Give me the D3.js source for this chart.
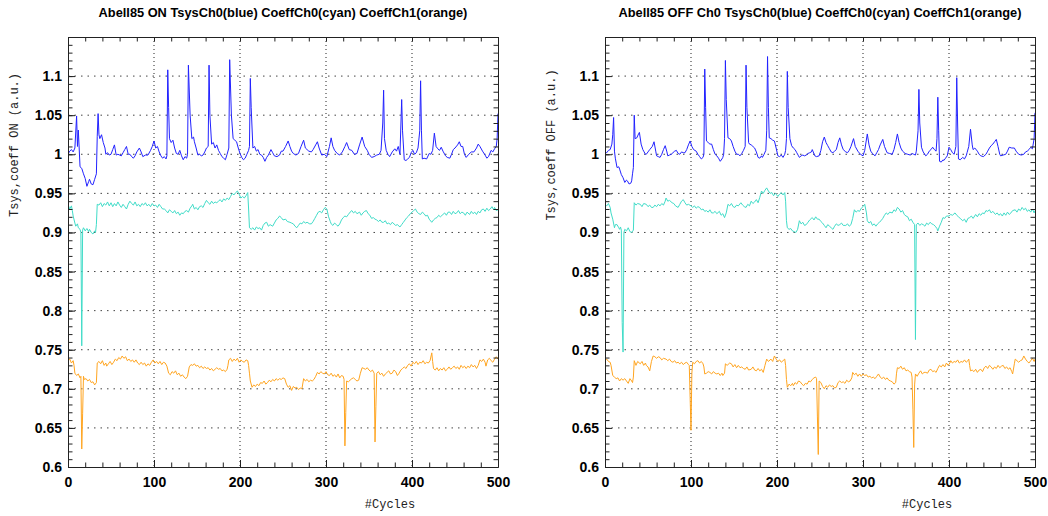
<!DOCTYPE html>
<html>
<head>
<meta charset="utf-8">
<script src="https://cdn.jsdelivr.net/npm/d3@7"></script>
<style>
  body { margin: 0; background: #fff; }
  svg { display: block; }
</style>
</head>
<body>
<svg width="1048" height="516"></svg>
<script>
// tick labels
const cycleTicks = [0, 100, 200, 300, 400, 500];
const valueTicks = [0.6, 0.65, 0.7, 0.75, 0.8, 0.85, 0.9, 0.95, 1, 1.05, 1.1];

const titles = [
    "Abell85 ON TsysCh0(blue) CoeffCh0(cyan) CoeffCh1(orange)",
    "Abell85 OFF Ch0 TsysCh0(blue) CoeffCh0(cyan) CoeffCh1(orange)"
];
const yLabels = ["Tsys,coeff ON (a.u.)", "Tsys,coeff OFF (a.u.)"];

// [cycle, value]
const onTsys = [[0,1.0],[2,1.004],[4,1.006],[6,1.003],[8,1.008],[10,1.049],[11,1.01],[12,1.031],[14,0.984],[16,0.982],[18,0.975],[20,0.969],[22,0.959],[24,0.965],[25,0.968],[27,0.962],[29,0.961],[31,0.968],[33,0.975],[34,1.023],[35,1.052],[36,1.025],[37,1.02],[39,1.025],[41,1.015],[43,1.008],[44,1.0],[46,1.002],[48,0.999],[50,1.0],[52,1.006],[54,1.012],[56,0.999],[58,1.0],[60,0.999],[62,0.998],[64,1.002],[66,1.006],[68,1.010],[70,1.0],[72,1.0],[74,0.997],[76,0.995],[78,0.998],[80,1.003],[83,1.008],[85,1.003],[87,0.997],[90,0.999],[93,0.999],[96,1.005],[98,1.01],[100,1.017],[102,1.008],[104,1.01],[106,1.003],[108,0.998],[110,0.995],[112,0.997],[114,0.994],[115,0.998],[116,1.108],[117,1.06],[118,1.02],[120,1.015],[122,1.018],[124,1.008],[126,1.001],[128,1.0],[130,1.005],[132,0.998],[134,0.993],[136,0.997],[138,0.995],[139,1.0],[140,1.114],[142,1.05],[144,1.02],[146,1.022],[147,1.016],[149,1.008],[151,0.999],[153,1.0],[155,0.998],[157,0.999],[159,1.003],[161,1.008],[163,1.01],[164,1.114],[165,1.05],[167,1.013],[169,1.015],[171,1.008],[173,1.012],[175,1.005],[177,1.001],[179,0.997],[181,0.995],[183,0.993],[185,1.0],[187,1.008],[188,1.121],[190,1.05],[192,1.02],[194,1.018],[196,1.016],[198,1.008],[200,1.001],[202,0.996],[204,0.993],[206,0.995],[208,1.0],[210,1.005],[211,1.01],[212,1.097],[213,1.06],[215,1.008],[217,1.01],[219,1.004],[221,1.006],[223,1.0],[225,0.999],[227,0.996],[229,0.991],[231,0.996],[233,0.999],[236,1.006],[238,1.002],[240,0.998],[243,0.997],[246,0.999],[248,1.004],[250,1.004],[253,1.01],[256,1.017],[258,1.01],[260,1.004],[262,1.001],[265,0.999],[268,1.001],[271,1.01],[274,1.018],[276,1.008],[278,1.006],[280,1.004],[283,1.003],[285,1.006],[288,1.012],[290,1.016],[292,1.008],[295,0.999],[298,1.0],[301,0.997],[304,1.01],[306,1.021],[308,1.01],[310,1.005],[313,1.001],[316,0.999],[319,1.003],[322,1.01],[324,1.015],[327,1.006],[330,1.005],[333,1.0],[336,1.001],[339,1.012],[342,1.022],[345,1.01],[348,1.005],[350,1.0],[353,0.996],[356,0.997],[359,0.999],[362,1.0],[364,1.005],[366,1.04],[367,1.082],[368,1.02],[370,1.005],[372,1.0],[374,0.997],[377,1.003],[380,1.007],[382,1.004],[384,1.01],[386,1.0],[388,1.07],[389,1.03],[391,0.993],[393,0.992],[395,0.994],[397,0.996],[399,1.002],[401,1.005],[403,1.0],[405,1.002],[407,1.008],[409,1.03],[410,1.094],[411,1.03],[412,0.994],[414,0.995],[417,0.994],[420,1.001],[422,1.0],[424,1.005],[426,1.027],[428,1.01],[430,1.007],[432,1.005],[434,1.009],[436,1.004],[439,0.998],[441,0.996],[444,0.995],[446,1.0],[448,1.006],[450,1.008],[453,1.012],[455,1.016],[457,1.01],[459,1.01],[461,1.0],[463,0.996],[466,1.0],[469,1.003],[472,1.003],[475,1.008],[477,1.013],[479,1.01],[482,1.004],[485,0.999],[487,0.995],[489,0.997],[492,1.005],[494,1.003],[496,1.007],[498,1.01],[499,1.02],[500,1.052]];

const onCoeff0 = [[0,0.936],[2,0.93],[4,0.934],[5,0.928],[6,0.921],[8,0.912],[9,0.908],[11,0.911],[12,0.906],[14,0.904],[15,0.9],[16,0.755],[17,0.903],[18,0.906],[20,0.902],[22,0.905],[24,0.901],[25,0.904],[27,0.9],[29,0.898],[31,0.902],[32,0.9],[33,0.91],[34,0.936],[36,0.935],[38,0.938],[40,0.933],[42,0.937],[44,0.935],[46,0.939],[48,0.934],[50,0.938],[52,0.933],[54,0.937],[56,0.934],[58,0.939],[60,0.935],[62,0.932],[64,0.936],[66,0.933],[68,0.93],[70,0.936],[72,0.94],[74,0.937],[76,0.935],[78,0.939],[80,0.934],[82,0.936],[84,0.933],[86,0.937],[88,0.935],[90,0.938],[92,0.934],[94,0.936],[96,0.933],[98,0.937],[100,0.934],[102,0.935],[104,0.932],[106,0.936],[108,0.933],[110,0.93],[112,0.93],[114,0.928],[116,0.925],[118,0.929],[120,0.927],[122,0.925],[124,0.928],[126,0.924],[128,0.926],[130,0.922],[132,0.925],[134,0.924],[136,0.927],[138,0.928],[140,0.926],[142,0.931],[144,0.934],[145,0.936],[147,0.93],[149,0.932],[151,0.929],[153,0.933],[155,0.934],[157,0.932],[159,0.937],[161,0.941],[163,0.938],[165,0.936],[167,0.94],[169,0.937],[171,0.939],[173,0.938],[175,0.94],[177,0.942],[179,0.939],[181,0.943],[183,0.941],[185,0.944],[187,0.942],[189,0.946],[191,0.95],[193,0.948],[195,0.951],[197,0.953],[199,0.949],[201,0.944],[203,0.946],[205,0.944],[207,0.947],[209,0.951],[210,0.93],[211,0.906],[213,0.904],[215,0.906],[217,0.903],[219,0.907],[221,0.905],[223,0.906],[225,0.903],[227,0.909],[229,0.912],[231,0.913],[233,0.908],[235,0.91],[238,0.908],[240,0.912],[242,0.916],[244,0.918],[246,0.921],[248,0.919],[250,0.916],[253,0.917],[255,0.914],[258,0.913],[260,0.912],[262,0.911],[264,0.908],[266,0.906],[268,0.909],[270,0.912],[272,0.911],[274,0.914],[276,0.912],[278,0.913],[281,0.911],[283,0.911],[285,0.914],[287,0.918],[289,0.922],[291,0.926],[293,0.927],[295,0.925],[297,0.929],[299,0.932],[301,0.93],[303,0.92],[305,0.914],[306,0.911],[308,0.909],[310,0.912],[312,0.91],[314,0.908],[316,0.911],[318,0.916],[320,0.919],[322,0.921],[324,0.92],[326,0.923],[328,0.926],[330,0.928],[332,0.925],[334,0.927],[336,0.924],[339,0.926],[341,0.922],[343,0.925],[345,0.927],[347,0.928],[349,0.924],[351,0.922],[353,0.918],[355,0.919],[357,0.917],[359,0.916],[361,0.914],[363,0.916],[365,0.913],[367,0.913],[369,0.915],[371,0.911],[373,0.912],[375,0.91],[377,0.913],[379,0.911],[381,0.909],[383,0.91],[386,0.907],[388,0.91],[390,0.913],[392,0.916],[394,0.919],[396,0.921],[398,0.924],[400,0.926],[402,0.928],[404,0.93],[406,0.926],[408,0.924],[410,0.923],[412,0.926],[414,0.924],[416,0.921],[418,0.922],[420,0.917],[423,0.913],[425,0.916],[427,0.918],[429,0.919],[431,0.922],[433,0.92],[436,0.923],[438,0.925],[440,0.922],[442,0.926],[444,0.926],[446,0.923],[448,0.927],[450,0.924],[452,0.925],[454,0.928],[456,0.924],[458,0.926],[460,0.925],[462,0.922],[464,0.926],[467,0.923],[469,0.927],[471,0.924],[473,0.926],[475,0.923],[477,0.927],[479,0.925],[481,0.929],[483,0.93],[485,0.927],[487,0.931],[489,0.928],[491,0.93],[493,0.933],[495,0.929],[496,0.932],[498,0.928],[500,0.929]];

const onCoeff1 = [[0,0.736],[2,0.738],[4,0.733],[6,0.736],[7,0.73],[8,0.72],[10,0.717],[12,0.719],[14,0.714],[15,0.716],[16,0.623],[17,0.668],[18,0.716],[19,0.712],[21,0.713],[23,0.71],[25,0.712],[27,0.708],[29,0.709],[31,0.705],[33,0.708],[34,0.733],[36,0.735],[38,0.732],[40,0.736],[42,0.73],[44,0.733],[45,0.729],[47,0.732],[49,0.735],[51,0.731],[53,0.734],[55,0.738],[57,0.736],[59,0.74],[61,0.738],[63,0.742],[65,0.739],[67,0.741],[69,0.736],[71,0.738],[73,0.735],[75,0.737],[77,0.734],[79,0.737],[81,0.733],[83,0.731],[85,0.734],[87,0.731],[89,0.733],[91,0.729],[93,0.732],[95,0.73],[97,0.734],[99,0.737],[101,0.733],[103,0.735],[105,0.732],[107,0.735],[109,0.731],[111,0.734],[113,0.733],[115,0.729],[117,0.72],[119,0.718],[121,0.722],[123,0.72],[125,0.723],[127,0.718],[129,0.72],[131,0.716],[133,0.718],[135,0.715],[137,0.713],[139,0.716],[141,0.728],[143,0.731],[145,0.73],[147,0.732],[149,0.729],[151,0.73],[153,0.727],[155,0.729],[157,0.726],[159,0.728],[161,0.726],[163,0.727],[165,0.724],[167,0.726],[169,0.723],[171,0.725],[173,0.727],[175,0.725],[177,0.726],[179,0.723],[181,0.724],[183,0.722],[185,0.725],[186,0.73],[187,0.737],[189,0.739],[191,0.735],[193,0.738],[195,0.736],[197,0.739],[199,0.734],[201,0.737],[203,0.735],[205,0.734],[207,0.737],[209,0.736],[210,0.73],[211,0.72],[212,0.71],[214,0.702],[216,0.705],[218,0.703],[220,0.706],[222,0.704],[224,0.708],[226,0.707],[228,0.71],[230,0.706],[232,0.708],[234,0.711],[236,0.709],[238,0.712],[240,0.71],[242,0.713],[244,0.711],[246,0.713],[248,0.712],[250,0.714],[252,0.713],[254,0.706],[256,0.702],[258,0.704],[260,0.698],[262,0.703],[264,0.701],[266,0.702],[268,0.699],[270,0.701],[272,0.7],[274,0.713],[276,0.71],[278,0.712],[280,0.709],[282,0.711],[284,0.71],[286,0.712],[288,0.716],[290,0.721],[292,0.719],[294,0.722],[296,0.72],[298,0.719],[300,0.722],[302,0.718],[304,0.717],[306,0.72],[308,0.716],[310,0.718],[312,0.715],[314,0.719],[316,0.714],[318,0.717],[320,0.716],[321,0.712],[322,0.627],[323,0.67],[324,0.71],[326,0.709],[328,0.711],[330,0.713],[332,0.714],[334,0.712],[336,0.71],[338,0.711],[340,0.72],[342,0.727],[344,0.726],[346,0.725],[348,0.727],[350,0.724],[352,0.722],[354,0.724],[356,0.72],[357,0.632],[358,0.677],[359,0.72],[361,0.722],[363,0.718],[365,0.72],[367,0.716],[369,0.719],[371,0.721],[373,0.723],[375,0.719],[377,0.72],[379,0.724],[381,0.722],[383,0.717],[385,0.72],[387,0.724],[389,0.726],[391,0.728],[393,0.726],[395,0.73],[397,0.732],[399,0.729],[401,0.734],[403,0.732],[405,0.735],[407,0.731],[409,0.734],[411,0.733],[413,0.736],[415,0.732],[417,0.734],[419,0.733],[421,0.736],[423,0.746],[424,0.735],[425,0.726],[427,0.724],[429,0.727],[431,0.723],[433,0.726],[435,0.724],[437,0.727],[439,0.723],[441,0.725],[443,0.728],[445,0.725],[447,0.727],[449,0.729],[451,0.726],[453,0.728],[455,0.725],[457,0.73],[459,0.727],[461,0.729],[463,0.726],[465,0.729],[467,0.727],[469,0.731],[471,0.728],[473,0.73],[475,0.726],[477,0.73],[479,0.737],[481,0.735],[483,0.738],[485,0.734],[486,0.729],[488,0.737],[490,0.739],[492,0.736],[494,0.734],[496,0.738],[498,0.741],[500,0.738]];

const offTsys = [[0,1.004],[2,1.002],[4,1.005],[6,1.006],[8,1.013],[9,1.025],[10,1.047],[11,1.004],[12,0.995],[14,0.983],[16,0.984],[17,0.981],[19,0.974],[21,0.97],[23,0.964],[25,0.967],[26,0.966],[28,0.962],[30,0.963],[31,0.966],[32,0.975],[33,0.983],[34,1.05],[35,1.02],[37,1.021],[39,1.026],[40,1.028],[42,1.013],[44,1.006],[45,1.004],[47,1.0],[48,1.0],[50,1.003],[52,1.006],[55,1.01],[57,1.016],[59,1.004],[60,0.998],[62,0.997],[64,0.996],[66,1.0],[68,1.006],[70,1.011],[72,1.003],[73,0.998],[75,0.999],[77,1.0],[79,1.002],[81,1.004],[83,1.005],[85,1.001],[87,1.0],[89,1.003],[91,1.002],[93,1.002],[95,1.006],[97,1.012],[99,1.017],[101,1.01],[103,1.006],[106,1.004],[108,1.0],[110,0.997],[112,0.994],[114,0.996],[115,1.0],[116,1.109],[117,1.06],[118,1.017],[120,1.015],[122,1.013],[124,1.013],[126,1.006],[128,1.0],[130,0.998],[132,0.995],[134,0.991],[136,0.994],[137,0.996],[138,1.0],[139,1.02],[140,1.12],[141,1.07],[143,1.021],[145,1.02],[147,1.017],[149,1.01],[151,1.004],[153,1.0],[155,1.0],[157,0.998],[159,1.001],[161,1.005],[163,1.01],[164,1.114],[165,1.06],[167,1.015],[168,1.013],[170,1.012],[172,1.01],[174,1.008],[176,1.003],[178,0.996],[180,0.995],[182,0.998],[183,0.996],[185,1.0],[187,1.005],[188,1.03],[189,1.125],[190,1.06],[191,1.021],[193,1.02],[195,1.018],[197,1.017],[199,1.008],[201,0.998],[203,0.997],[205,0.999],[207,0.996],[209,1.0],[210,1.005],[211,1.02],[212,1.106],[213,1.06],[215,1.02],[217,1.011],[219,1.008],[221,1.006],[223,1.002],[225,0.998],[226,0.996],[228,0.998],[230,0.999],[232,0.998],[234,0.999],[236,1.001],[238,1.002],[240,1.003],[241,1.006],[244,0.998],[246,0.997],[249,0.998],[251,1.005],[253,1.016],[255,1.022],[257,1.015],[259,1.011],[261,1.007],[263,1.003],[265,1.002],[267,1.004],[269,1.006],[271,1.015],[273,1.021],[275,1.012],[277,1.006],[280,1.003],[282,1.002],[284,1.005],[286,1.01],[289,1.02],[291,1.01],[294,1.004],[297,1.0],[300,0.998],[302,1.005],[305,1.026],[307,1.012],[309,1.004],[311,1.001],[314,0.998],[316,1.002],[318,1.006],[320,1.012],[323,1.019],[325,1.01],[328,1.002],[331,1.001],[334,1.0],[336,1.006],[338,1.015],[340,1.026],[342,1.015],[344,1.008],[346,1.004],[349,1.001],[352,1.0],[355,0.999],[357,1.001],[359,1.0],[361,0.999],[362,1.004],[364,1.03],[365,1.083],[366,1.04],[368,1.009],[370,1.003],[373,0.998],[375,1.0],[377,1.004],[379,1.006],[381,1.009],[383,1.006],[385,1.004],[386,1.02],[387,1.073],[388,1.03],[389,0.991],[391,0.99],[393,0.993],[394,0.992],[396,0.995],[398,0.998],[400,1.009],[402,1.006],[404,1.002],[406,1.0],[408,1.01],[409,1.098],[410,1.04],[411,0.994],[413,0.993],[416,0.996],[418,0.994],[420,0.998],[421,1.002],[423,1.01],[425,1.032],[427,1.012],[428,1.006],[430,1.008],[433,1.004],[435,1.0],[437,0.998],[440,0.997],[443,1.0],[445,1.004],[447,1.008],[449,1.011],[451,1.013],[453,1.016],[455,1.019],[457,1.01],[459,1.0],[460,0.998],[463,0.999],[466,1.0],[468,1.004],[470,1.009],[473,1.008],[476,1.008],[478,1.004],[481,1.0],[484,0.999],[487,1.0],[489,1.003],[491,1.004],[493,1.006],[495,1.009],[497,1.007],[499,1.02],[500,1.053]];

const offCoeff0 = [[0,0.936],[2,0.934],[4,0.937],[6,0.932],[7,0.925],[9,0.917],[11,0.906],[12,0.91],[14,0.91],[16,0.906],[17,0.904],[18,0.907],[19,0.903],[20,0.785],[21,0.747],[22,0.9],[23,0.904],[25,0.902],[27,0.906],[29,0.901],[31,0.9],[33,0.903],[34,0.938],[36,0.935],[38,0.937],[41,0.936],[43,0.933],[45,0.937],[48,0.936],[50,0.933],[52,0.935],[54,0.932],[56,0.932],[58,0.935],[60,0.933],[62,0.936],[64,0.934],[66,0.937],[68,0.935],[70,0.94],[71,0.944],[73,0.94],[75,0.941],[78,0.938],[80,0.937],[82,0.934],[85,0.932],[87,0.936],[89,0.94],[91,0.942],[93,0.938],[95,0.935],[97,0.936],[100,0.934],[102,0.932],[104,0.934],[106,0.931],[108,0.933],[110,0.932],[112,0.929],[114,0.93],[116,0.927],[118,0.928],[120,0.926],[122,0.929],[124,0.925],[126,0.925],[128,0.927],[130,0.924],[133,0.927],[135,0.922],[137,0.924],[139,0.919],[141,0.925],[143,0.936],[145,0.934],[147,0.937],[149,0.933],[151,0.932],[153,0.935],[155,0.934],[158,0.938],[160,0.935],[162,0.933],[164,0.932],[166,0.936],[168,0.934],[170,0.94],[172,0.937],[174,0.939],[176,0.942],[178,0.938],[180,0.945],[182,0.953],[184,0.95],[186,0.954],[188,0.957],[190,0.953],[192,0.95],[194,0.951],[196,0.947],[198,0.95],[199,0.949],[201,0.946],[203,0.949],[205,0.951],[207,0.948],[209,0.951],[210,0.94],[211,0.915],[212,0.906],[214,0.904],[216,0.905],[218,0.902],[220,0.901],[222,0.9],[224,0.904],[226,0.915],[228,0.911],[230,0.913],[232,0.909],[234,0.91],[236,0.913],[238,0.916],[240,0.918],[241,0.919],[243,0.916],[245,0.92],[247,0.917],[249,0.917],[251,0.914],[253,0.912],[255,0.909],[257,0.906],[259,0.91],[261,0.908],[263,0.906],[265,0.904],[267,0.908],[269,0.911],[271,0.909],[273,0.91],[275,0.912],[277,0.909],[280,0.909],[282,0.911],[284,0.908],[286,0.91],[288,0.918],[290,0.929],[292,0.926],[294,0.928],[296,0.927],[298,0.931],[300,0.933],[302,0.936],[304,0.925],[305,0.915],[307,0.912],[309,0.914],[311,0.909],[313,0.911],[315,0.908],[317,0.911],[319,0.913],[321,0.915],[323,0.918],[325,0.922],[327,0.925],[329,0.923],[331,0.926],[334,0.925],[336,0.929],[338,0.927],[340,0.932],[342,0.93],[344,0.926],[346,0.928],[348,0.923],[350,0.921],[352,0.92],[354,0.915],[356,0.917],[358,0.913],[360,0.91],[361,0.763],[362,0.91],[364,0.912],[366,0.909],[368,0.911],[370,0.91],[372,0.908],[374,0.912],[376,0.91],[378,0.913],[380,0.911],[382,0.91],[384,0.908],[386,0.905],[387,0.902],[389,0.908],[391,0.913],[393,0.919],[395,0.918],[397,0.921],[400,0.921],[402,0.923],[404,0.922],[407,0.925],[409,0.922],[411,0.92],[413,0.918],[416,0.915],[418,0.917],[420,0.913],[422,0.918],[424,0.919],[426,0.921],[428,0.918],[431,0.923],[433,0.92],[435,0.924],[437,0.922],[439,0.925],[441,0.924],[443,0.928],[445,0.927],[447,0.929],[449,0.925],[451,0.927],[454,0.923],[456,0.925],[458,0.922],[460,0.924],[462,0.921],[464,0.925],[466,0.922],[468,0.926],[470,0.923],[472,0.925],[474,0.928],[477,0.929],[479,0.926],[481,0.93],[483,0.928],[485,0.932],[487,0.929],[489,0.931],[491,0.927],[493,0.929],[495,0.926],[497,0.93],[499,0.925],[500,0.928]];

const offCoeff1 = [[0,0.736],[2,0.738],[4,0.735],[6,0.734],[7,0.73],[9,0.717],[11,0.715],[13,0.713],[15,0.714],[17,0.71],[19,0.713],[21,0.711],[23,0.713],[25,0.71],[27,0.707],[29,0.713],[31,0.71],[32,0.708],[33,0.715],[34,0.736],[36,0.73],[38,0.735],[41,0.732],[43,0.735],[45,0.73],[47,0.733],[48,0.73],[50,0.728],[52,0.723],[54,0.735],[56,0.742],[58,0.741],[60,0.739],[62,0.741],[64,0.74],[66,0.737],[68,0.739],[71,0.738],[73,0.736],[75,0.738],[77,0.735],[79,0.734],[81,0.736],[83,0.733],[85,0.734],[87,0.732],[89,0.734],[91,0.731],[93,0.733],[95,0.734],[97,0.731],[98,0.73],[99,0.689],[100,0.647],[101,0.72],[102,0.734],[104,0.732],[106,0.735],[108,0.736],[110,0.733],[112,0.735],[114,0.732],[115,0.728],[116,0.719],[118,0.72],[120,0.722],[122,0.721],[124,0.719],[126,0.722],[128,0.72],[130,0.719],[132,0.72],[134,0.717],[136,0.72],[137,0.717],[139,0.72],[140,0.732],[142,0.73],[145,0.733],[147,0.732],[149,0.728],[151,0.731],[153,0.727],[155,0.73],[157,0.727],[159,0.728],[161,0.726],[163,0.725],[165,0.728],[167,0.724],[170,0.725],[172,0.728],[174,0.724],[176,0.723],[178,0.726],[180,0.723],[182,0.725],[184,0.721],[186,0.73],[188,0.738],[190,0.735],[193,0.738],[195,0.735],[197,0.742],[199,0.738],[201,0.735],[203,0.737],[205,0.734],[207,0.736],[209,0.738],[210,0.73],[211,0.712],[212,0.702],[214,0.706],[216,0.704],[218,0.707],[219,0.704],[221,0.708],[223,0.706],[225,0.71],[227,0.709],[229,0.706],[231,0.704],[233,0.707],[235,0.706],[237,0.71],[239,0.709],[241,0.712],[243,0.714],[245,0.715],[246,0.713],[247,0.664],[248,0.616],[249,0.71],[251,0.708],[253,0.703],[255,0.7],[257,0.704],[259,0.702],[261,0.705],[263,0.703],[265,0.704],[267,0.701],[269,0.702],[271,0.708],[273,0.71],[275,0.708],[277,0.709],[279,0.707],[281,0.711],[283,0.709],[285,0.71],[287,0.714],[288,0.721],[290,0.718],[292,0.72],[294,0.716],[296,0.719],[298,0.716],[300,0.719],[302,0.717],[304,0.718],[306,0.715],[308,0.716],[310,0.714],[312,0.715],[314,0.713],[316,0.716],[318,0.719],[320,0.715],[322,0.713],[324,0.715],[326,0.712],[328,0.714],[330,0.711],[332,0.71],[334,0.709],[336,0.706],[338,0.708],[339,0.72],[340,0.727],[342,0.726],[344,0.729],[346,0.725],[348,0.727],[350,0.723],[352,0.724],[354,0.722],[356,0.721],[357,0.715],[358,0.674],[359,0.625],[360,0.705],[361,0.719],[363,0.716],[365,0.72],[367,0.723],[369,0.719],[371,0.721],[373,0.721],[375,0.72],[377,0.724],[379,0.725],[381,0.722],[383,0.723],[385,0.721],[387,0.726],[389,0.73],[391,0.728],[393,0.731],[395,0.728],[397,0.733],[399,0.73],[401,0.733],[402,0.736],[404,0.733],[406,0.735],[408,0.734],[410,0.737],[412,0.733],[414,0.735],[416,0.734],[418,0.737],[420,0.734],[422,0.736],[423,0.738],[424,0.73],[425,0.723],[427,0.724],[429,0.722],[431,0.725],[433,0.721],[435,0.724],[437,0.725],[439,0.722],[441,0.727],[443,0.729],[445,0.726],[447,0.73],[449,0.728],[451,0.725],[453,0.728],[455,0.726],[457,0.73],[459,0.727],[461,0.729],[463,0.73],[465,0.726],[467,0.728],[469,0.725],[471,0.727],[473,0.722],[474,0.719],[476,0.732],[477,0.738],[479,0.736],[481,0.734],[483,0.736],[485,0.737],[487,0.742],[489,0.738],[491,0.735],[493,0.733],[495,0.736],[497,0.739],[499,0.735],[500,0.738]];

const seriesColors = ["#2222ff", "#40dcc8", "#ffa520"];

const svg = d3.select("svg");
const plotW = 430;
const plotTop = 37, plotBottom = 467;

const drawPanel = (idx, left, data) => {
    const x = d3.scaleLinear().domain([0, 500]).range([left, left + plotW]);
    const y = d3.scaleLinear().domain([0.6, 1.15]).range([plotBottom, plotTop]);
    const g = svg.append("g");

    // dotted grid
    g.append("g")
        .selectAll("line")
        .data(valueTicks.slice(1))
        .join("line")
        .attr("x1", left).attr("x2", left + plotW)
        .attr("y1", d => y(d)).attr("y2", d => y(d))
        .attr("stroke", "#444")
        .attr("stroke-dasharray", "1.5,5");
    g.append("g")
        .selectAll("line")
        .data(cycleTicks.slice(1, -1))
        .join("line")
        .attr("x1", d => x(d)).attr("x2", d => x(d))
        .attr("y1", plotTop).attr("y2", plotBottom)
        .attr("stroke", "#222")
        .attr("stroke-dasharray", "1,3");

    // clip
    const clipId = "clip" + idx;
    g.append("clipPath").attr("id", clipId)
        .append("rect")
        .attr("x", left).attr("y", plotTop)
        .attr("width", plotW).attr("height", plotBottom - plotTop);

    const line = d3.line().x(d => x(d[0])).y(d => y(d[1]));
    g.append("g")
        .attr("clip-path", `url(#${clipId})`)
        .selectAll("path")
        .data(data)
        .join("path")
        .attr("fill", "none")
        .attr("stroke", (d, i) => seriesColors[i])
        .attr("stroke-width", 1)
        .attr("d", line);

    // axes (ticks inward, minor + major)
    const minorX = d3.range(0, 501, 20);
    const minorY = d3.range(60, 116).map(d => d / 100);
    const fmt = d => String(+d.toFixed(2));

    const styleAxis = a => {
        a.select(".domain").attr("stroke", "#222");
        a.selectAll(".tick line").attr("stroke", "#222");
    };

    g.append("g").attr("transform", `translate(0,${plotBottom})`)
        .call(d3.axisBottom(x).tickValues(minorX).tickSize(-4.5).tickSizeOuter(0).tickFormat(""))
        .call(styleAxis);
    g.append("g").attr("transform", `translate(0,${plotTop})`)
        .call(d3.axisTop(x).tickValues(minorX).tickSize(-4.5).tickSizeOuter(0).tickFormat(""))
        .call(styleAxis);
    g.append("g").attr("transform", `translate(${left},0)`)
        .call(d3.axisLeft(y).tickValues(minorY).tickSize(-4.5).tickSizeOuter(0).tickFormat(""))
        .call(styleAxis);
    g.append("g").attr("transform", `translate(${left + plotW},0)`)
        .call(d3.axisRight(y).tickValues(minorY).tickSize(-4.5).tickSizeOuter(0).tickFormat(""))
        .call(styleAxis);

    const xAxis = g.append("g").attr("transform", `translate(0,${plotBottom})`)
        .call(d3.axisBottom(x).tickValues(cycleTicks).tickSize(-7).tickSizeOuter(0).tickPadding(10).tickFormat(fmt))
        .call(styleAxis);
    const yAxis = g.append("g").attr("transform", `translate(${left},0)`)
        .call(d3.axisLeft(y).tickValues(valueTicks).tickSize(-7).tickSizeOuter(0).tickPadding(6).tickFormat(fmt))
        .call(styleAxis);
    [xAxis, yAxis].forEach(a => a.selectAll("text")
        .attr("fill", "#000")
        .style("font", "bold 14px 'Liberation Sans', Arial, sans-serif"));

    // title and axis labels
    svg.append("text")
        .attr("x", left + plotW / 2).attr("y", 17)
        .attr("text-anchor", "middle")
        .style("font", "bold 12.8px 'Liberation Sans', Arial, sans-serif")
        .text(titles[idx]);
    svg.append("text")
        .attr("x", left + 322).attr("y", 508)
        .attr("text-anchor", "middle")
        .attr("fill", "#222")
        .style("font", "12px 'Liberation Mono', 'DejaVu Sans Mono', monospace")
        .text("#Cycles");
    svg.append("text")
        .attr("transform", `translate(${left - 50},145) rotate(-90)`)
        .attr("text-anchor", "middle")
        .attr("fill", "#222")
        .style("font", "12px 'Liberation Mono', 'DejaVu Sans Mono', monospace")
        .text(yLabels[idx]);
};

drawPanel(0, 68, [onTsys, onCoeff0, onCoeff1]);
drawPanel(1, 605, [offTsys, offCoeff0, offCoeff1]);
</script>
</body>
</html>
